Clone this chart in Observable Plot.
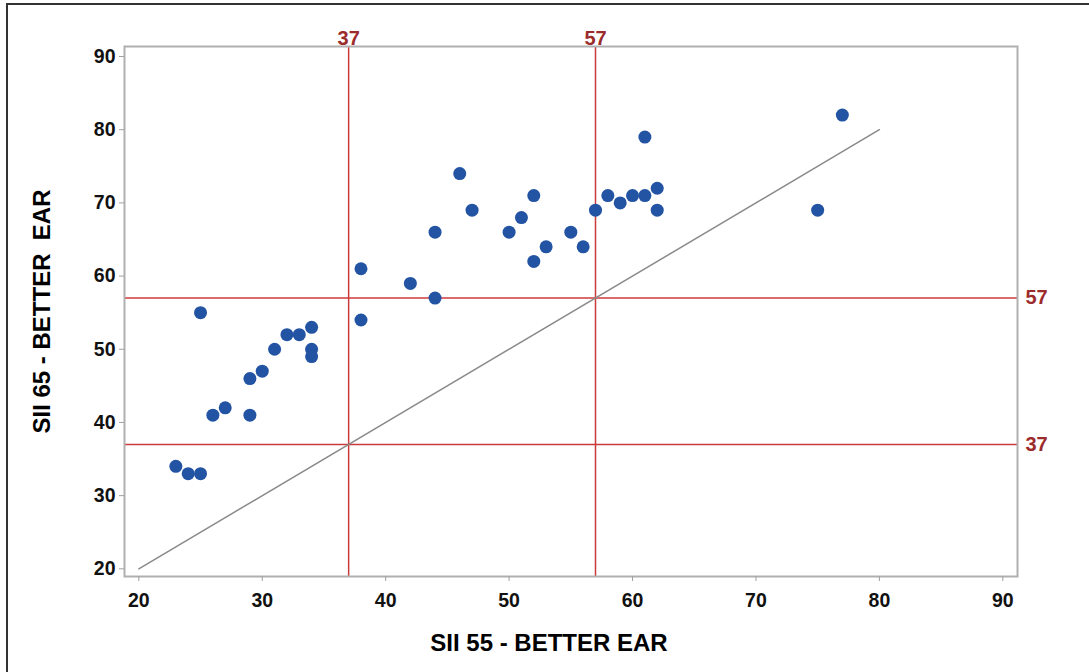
<!DOCTYPE html>
<html>
<head>
<meta charset="utf-8">
<script src="https://cdn.jsdelivr.net/npm/d3@7"></script>
<script src="https://cdn.jsdelivr.net/npm/@observablehq/plot@0.6"></script>
<style>
  html, body { margin: 0; padding: 0; background: #fff; overflow: hidden; }
  #wrap { position: relative; width: 1089px; height: 672px; }
  #border { position: absolute; left: 6px; top: 3px; right: -10px; bottom: -10px;
            border-left: 2px solid #333; border-top: 2px solid #333; pointer-events: none; }
  #chart { position: absolute; left: 0; top: 0; }
</style>
</head>
<body>
<div id="wrap"><div id="chart"></div><div id="border"></div></div>
<script>
// SII 55 (x) and SII 65 (y), better ear
const sii55 = [23,24,25,25,26,27,29,29,30,31,32,33,34,34,34,38,38,42,44,44,46,47,50,51,52,52,53,55,56,57,58,59,60,61,61,62,62,75,77];
const sii65 = [34,33,33,55,41,42,46,41,47,50,52,52,53,50,49,61,54,59,57,66,74,69,66,68,71,62,64,66,64,69,71,70,71,71,79,72,69,69,82];
const refValues = [37, 57];
const diagX = [20, 80];
const diagY = [20, 80];
const tickValues = [20, 30, 40, 50, 60, 70, 80, 90];
const xTitle = "SII 55 - BETTER EAR";
const yTitle = "SII 65 - BETTER  EAR";

const points = sii55.map((x, i) => ({x, y: sii65[i]}));
const diag = diagX.map((x, i) => ({x, y: diagY[i]}));

const font = "'Liberation Sans', Arial, Helvetica, sans-serif";
const red = "#cc3a3a";
const darkRed = "#9c2b2b";

const chart = Plot.plot({
  width: 1089,
  height: 672,
  marginLeft: 124,
  marginRight: 72,
  marginTop: 46,
  marginBottom: 96,
  style: { fontFamily: font, background: "#fff" },
  x: { domain: [18.84, 91.19], ticks: tickValues },
  y: { domain: [18.95, 91.37], ticks: tickValues },
  marks: [
    Plot.ruleX(refValues, { stroke: red, strokeWidth: 1.5 }),
    Plot.ruleY(refValues, { stroke: red, strokeWidth: 1.5 }),
    Plot.line(diag, { x: "x", y: "y", stroke: "#8a8a8a", strokeWidth: 1.5 }),
    Plot.dot(points, { x: "x", y: "y", r: 6.5, fill: "#2353a3", stroke: "none" }),
    Plot.frame({ stroke: "#b0b0b0", strokeWidth: 2 }),
    Plot.axisX(tickValues, { tickSize: 5, tickPadding: 12, stroke: "#a0a0a0", fill: "#111",
      fontSize: 19.5, fontWeight: "bold", label: null }),
    Plot.axisY(tickValues, { tickSize: 5, tickPadding: 4, stroke: "#a0a0a0", fill: "#111",
      fontSize: 19.5, fontWeight: "bold", label: null }),
    Plot.text(refValues, { x: d => d, frameAnchor: "top", dy: -2, lineAnchor: "bottom",
      text: d => String(d), fill: darkRed, fontSize: 20, fontWeight: "bold" }),
    Plot.text(refValues, { y: d => d, frameAnchor: "right", dx: 8, textAnchor: "start",
      text: d => String(d), fill: darkRed, fontSize: 20, fontWeight: "bold" }),
    Plot.text([xTitle], { frameAnchor: "bottom", dx: -22, dy: 74, text: d => d,
      fill: "#000", fontSize: 24, fontWeight: "bold" }),
    Plot.text([yTitle], { frameAnchor: "left", dx: -82, rotate: -90, textAnchor: "middle",
      text: d => d, fill: "#000", fontSize: 24, fontWeight: "bold" })
  ]
});
document.getElementById("chart").appendChild(chart);
</script>
</body>
</html>
